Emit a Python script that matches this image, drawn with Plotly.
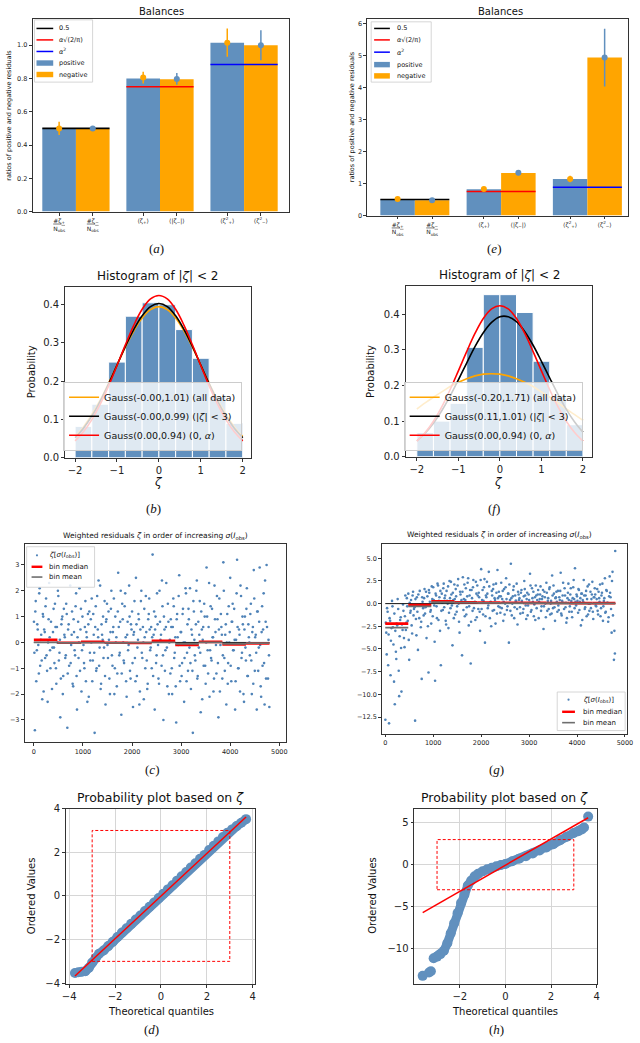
import plotly.graph_objects as go

W, H = 640, 1043
FONT = "DejaVu Sans"
SERIF = "Liberation Serif"
BLUE = "#6190BE"
ORANGE = "#FFA500"
DOT = "#4F83B8"

# ---------------- (a) / (e) balances ----------------
bal_labels = ["<u>#ζ<sub>+</sub></u><br>N<sub>obs</sub>", "<u>#ζ<sub>−</sub></u><br>N<sub>obs</sub>",
              "⟨ζ<sub>+</sub>⟩", "⟨|ζ<sub>−</sub>|⟩",
              "⟨ζ<sup>2</sup><sub>+</sub>⟩", "⟨ζ<sup>2</sup><sub>−</sub>⟩"]
bal_pos_x = [0, 2.5, 5]
bal_neg_x = [1, 3.5, 6]
ref_vals = [0.5, 0.75, 0.884]
ref_colors = ["black", "red", "blue"]

bal_a_pos = [0.50, 0.80, 1.015]
bal_a_neg = [0.50, 0.795, 1.00]
bal_a_pos_pt = [0.50, 0.805, 1.015]
bal_a_pos_err = [0.04, 0.035, 0.085]
bal_a_neg_pt = [0.50, 0.797, 1.00]
bal_a_neg_err = [0.008, 0.035, 0.09]

bal_e_pos = [0.50, 0.82, 1.14]
bal_e_neg = [0.48, 1.33, 4.93]
bal_e_pos_pt = [0.52, 0.83, 1.14]
bal_e_pos_err = [0.03, 0.03, 0.10]
bal_e_neg_pt = [0.48, 1.34, 4.93]
bal_e_neg_err = [0.02, 0.08, 0.90]

# ---------------- (b) / (f) histograms ----------------
hist_edges = [-2.0, -1.6, -1.2, -0.8, -0.4, 0.0, 0.4, 0.8, 1.2, 1.6, 2.0]
hist_b = [0.082, 0.14, 0.25, 0.37, 0.405, 0.40, 0.335, 0.26, 0.16, 0.09]
hist_f = [0.068, 0.10, 0.15, 0.307, 0.455, 0.455, 0.405, 0.268, 0.17, 0.09]
gauss_x = [-2.0, -1.8, -1.6, -1.4, -1.2, -1.0, -0.8, -0.6, -0.4, -0.2, 0.0,
           0.2, 0.4, 0.6, 0.8, 1.0, 1.2, 1.4, 1.6, 1.8, 2.0]
gauss_red = [0.0441, 0.0679, 0.0997, 0.140, 0.188, 0.241, 0.295, 0.346, 0.388, 0.415, 0.424,
             0.415, 0.388, 0.346, 0.295, 0.241, 0.188, 0.140, 0.0997, 0.0679, 0.0441]
gauss_b_black = [0.0524, 0.0772, 0.109, 0.148, 0.193, 0.242, 0.291, 0.335, 0.371, 0.395, 0.403,
                 0.395, 0.371, 0.335, 0.291, 0.242, 0.193, 0.148, 0.109, 0.0772, 0.0524]
gauss_b_orange = [0.0556, 0.0807, 0.113, 0.151, 0.195, 0.242, 0.289, 0.331, 0.365, 0.387, 0.395,
                  0.387, 0.365, 0.331, 0.289, 0.242, 0.195, 0.151, 0.113, 0.0807, 0.0556]
gauss_f_black = [0.0446, 0.0661, 0.0942, 0.129, 0.170, 0.216, 0.263, 0.309, 0.348, 0.377, 0.393,
                 0.393, 0.379, 0.351, 0.313, 0.268, 0.221, 0.175, 0.133, 0.0974, 0.0686]
gauss_f_orange = [0.134, 0.151, 0.167, 0.182, 0.197, 0.209, 0.219, 0.227, 0.232, 0.233, 0.232,
                  0.227, 0.219, 0.209, 0.197, 0.182, 0.167, 0.151, 0.134, 0.118, 0.102]
labels_b = ["Gauss(-0.00,1.01) (all data)", "Gauss(-0.00,0.99) (|<i>ζ</i>| < 3)", "Gauss(0.00,0.94) (0, <i>α</i>)"]
labels_f = ["Gauss(-0.20,1.71) (all data)", "Gauss(0.11,1.01) (|<i>ζ</i>| < 3)", "Gauss(0.00,0.94) (0, <i>α</i>)"]

# ---------------- (c) / (g) weighted residuals ----------------
obs_index = [
    2, 21, 38, 61, 79, 102, 118, 141, 160, 183, 199, 222, 238, 259, 281, 300, 322, 338, 361, 379,
    402, 419, 441, 458, 481, 499, 522, 538, 561, 580, 599, 622, 640, 659, 682, 698, 719, 741, 760, 778,
    801, 819, 840, 861, 879, 902, 918, 941, 959, 981, 1000, 1022, 1039, 1061, 1078, 1101, 1119, 1142, 1160, 1179,
    1201, 1220, 1238, 1261, 1279, 1302, 1318, 1340, 1361, 1379, 1402, 1419, 1441, 1460, 1478, 1500, 1521, 1539, 1561, 1579,
    1602, 1619, 1640, 1659, 1681, 1700, 1718, 1741, 1759, 1782, 1800, 1821, 1838, 1861, 1879, 1901, 1920, 1941, 1959, 1978,
    2001, 2020, 2041, 2059, 2080, 2099, 2121, 2139, 2160, 2181, 2199, 2222, 2240, 2258, 2281, 2300, 2319, 2341, 2359, 2380,
    2401, 2419, 2440, 2462, 2479, 2500, 2521, 2538, 2560, 2579, 2602, 2620, 2639, 2661, 2680, 2698, 2720, 2741, 2759, 2781,
    2800, 2818, 2841, 2859, 2882, 2900, 2919, 2940, 2961, 2979, 3001, 3020, 3038, 3061, 3080, 3099, 3121, 3140, 3158, 3181,
    3200, 3222, 3239, 3260, 3279, 3301, 3320, 3338, 3361, 3380, 3399, 3422, 3440, 3459, 3481, 3500, 3518, 3541, 3560, 3579,
    3601, 3620, 3641, 3659, 3680, 3700, 3719, 3741, 3760, 3778, 3801, 3820, 3839, 3860, 3881, 3899, 3921, 3940, 3958, 3981,
    4000, 4022, 4040, 4059, 4081, 4100, 4119, 4140, 4161, 4179, 4200, 4221, 4240, 4258, 4281, 4300, 4320, 4339, 4361, 4380,
    4400, 4421, 4440, 4462, 4480, 4501, 4520, 4541, 4560, 4582, 4600, 4621, 4640, 4659, 4681, 4700, 4722, 4741, 4770, 4797,
]
obs_index_b = [
    11, 30, 49, 70, 90, 110, 129, 150, 171, 190, 210, 230, 249, 270, 290, 311, 330, 349, 370, 390,
    410, 430, 450, 470, 490, 510, 530, 550, 570, 590, 611, 630, 650, 670, 690, 709, 730, 750, 770, 790,
    810, 830, 850, 870, 890, 910, 930, 950, 970, 990, 1011, 1030, 1050, 1070, 1090, 1110, 1130, 1150, 1170, 1190,
    1210, 1230, 1250, 1270, 1290, 1310, 1330, 1350, 1370, 1390, 1410, 1430, 1450, 1470, 1490, 1510, 1530, 1550, 1570, 1590,
    1610, 1630, 1650, 1670, 1690, 1710, 1730, 1750, 1770, 1790, 1810, 1830, 1850, 1870, 1890, 1910, 1930, 1950, 1970, 1990,
    2010, 2030, 2050, 2070, 2090, 2110, 2130, 2150, 2170, 2190, 2210, 2230, 2250, 2270, 2290, 2310, 2330, 2350, 2370, 2390,
    2410, 2430, 2450, 2470, 2490, 2510, 2530, 2550, 2570, 2590, 2610, 2630, 2650, 2670, 2690, 2710, 2730, 2750, 2770, 2790,
    2810, 2830, 2850, 2870, 2890, 2910, 2930, 2950, 2970, 2990, 3010, 3030, 3050, 3070, 3090, 3110, 3130, 3150, 3170, 3190,
    3210, 3230, 3250, 3270, 3290, 3310, 3330, 3350, 3370, 3390, 3410, 3430, 3450, 3470, 3490, 3510, 3530, 3550, 3570, 3590,
    3610, 3630, 3650, 3670, 3690, 3710, 3730, 3750, 3770, 3790, 3810, 3830, 3850, 3870, 3890, 3910, 3930, 3950, 3970, 3990,
    4010, 4030, 4050, 4070, 4090, 4110, 4130, 4150, 4170, 4190, 4210, 4230, 4250, 4270, 4290, 4310, 4330, 4350, 4370, 4390,
    4410, 4430, 4450, 4470, 4490, 4510, 4530, 4550, 4570, 4590, 4610, 4630, 4650, 4670, 4690, 4710, 4730, 4750, 4780, 4790,
]
zeta_c = [
    0.8, -3.4, 1.6, -0.3, 0.5, -1.2, 2.1, 0.1, -0.7, 1.1, -1.9, 0.4, 1.4, -0.5, -2.3, 0.9, 0.2, -1.0, 2.6, -0.2,
    1.3, -0.8, 0.6, -1.6, 0.0, 1.8, -0.4, -2.9, 0.7, 1.0, -1.3, 0.3, -0.6, 1.5, -3.3, 0.5, -0.9, 2.2, -0.1, 1.2,
    -1.7, 0.4, -0.5, 1.9, -2.6, 0.8, 0.0, -1.1, 1.3, -0.3, 2.9, -0.8, 0.6, -1.5, 0.2, 1.1, -2.1, -0.4, 0.9, 1.7,
    -0.7, 0.3, -3.5, 1.4, -1.0, 0.5, 2.4, -0.2, -1.8, 0.7, 0.1, -0.6, 1.6, -2.4, 0.9, -0.1, 1.2, -1.4, 0.4, 2.0,
    -0.9, 0.6, -2.0, 1.0, 0.2, -1.2, 2.7, -0.5, 0.8, -2.8, 1.5, 0.0, -0.8, 1.9, -1.5, 0.3, -0.3, 2.2, -1.1, 0.7,
    1.2, -2.5, 0.4, -0.6, 2.5, -1.3, 0.1, 0.9, -1.9, 1.6, -0.4, 0.6, -2.2, 0.2, 1.8, -0.7, -1.6, 1.1, 0.5, -0.2,
    -1.0, 3.4, 0.3, -2.6, 1.0, -0.5, 0.7, -1.4, 2.0, 0.1, -0.9, 1.4, -3.0, 0.5, -0.3, 2.3, -1.7, 0.8, 0.0, -1.2,
    0.6, -2.0, 1.7, -0.6, 0.2, -3.1, 1.1, -0.1, 2.6, -1.5, 0.4, -0.8, 1.3, -2.3, 0.0, 1.9, -0.4, -1.1, 0.9, 2.1,
    -1.8, 0.3, -3.5, 1.2, -0.5, 0.7, 2.4, -1.3, -0.2, 1.6, -2.7, 0.5, 0.1, -0.9, 1.0, -1.6, 2.9, -0.3, 0.6, -2.1,
    1.4, -0.7, 0.2, -1.9, 2.2, 0.4, -1.2, 0.9, -2.9, 1.7, -0.1, 0.6, -1.4, 3.1, -0.6, 0.3, -2.4, 1.1, -0.8, 0.0,
    2.5, -1.5, 0.8, -0.3, 1.3, -2.6, 0.1, 3.2, -1.0, 0.5, -1.9, 1.8, -0.4, 0.7, -2.3, 1.0, -0.7, 2.1, -1.3, 0.2,
    -0.5, 1.5, -2.0, 0.6, 2.8, -1.1, 0.3, -2.6, 1.2, -0.2, 2.9, -1.7, 0.4, -0.9, 1.9, -2.4, 0.8, 3.0, -1.4, -2.5,
]
zeta_c_b = [
    -0.4, 1.2, -1.5, 0.7, -0.1, 1.9, -0.9, 0.3, -2.2, 1.0, 0.5, -0.6, 1.7, -1.1, 0.0, 2.3, -0.3, 0.8, -1.8, 0.4,
    -0.2, 1.5, -1.0, 0.6, 2.0, -0.7, 0.1, -1.4, 0.9, -2.0, 1.3, 0.2, -0.5, 1.1, -1.2, 0.7, 2.5, -0.8, 0.3, -1.6,
    0.9, -0.3, 1.4, -1.3, 0.2, -0.6, 2.1, 0.5, -1.9, 1.0, -0.1, -1.0, 1.6, 0.4, -2.3, 0.7, 1.2, -0.7, 0.0, -1.5,
    1.1, -0.4, 0.6, -1.1, 1.8, 0.2, -0.9, 2.2, -1.6, 0.3, 1.0, -0.2, -1.3, 0.8, 1.5, -0.6, 0.1, -2.0, 1.3, -0.5,
    0.4, 1.7, -1.0, 0.0, -1.7, 1.2, 0.6, -0.4, 2.0, -1.2, 0.9, -0.7, 1.4, 0.2, -2.1, 0.8, -0.1, 1.0, -1.4, 0.5,
    -0.8, 0.3, 1.6, -1.5, 0.7, -0.2, 1.1, -2.4, 0.5, 2.0, -0.6, 0.0, 1.3, -1.0, 0.4, -1.8, 0.9, 1.7, -0.3, 0.6,
    0.2, -1.3, 1.2, 0.5, -0.8, 1.9, -0.1, -1.6, 0.8, 0.3, 2.4, -0.5, 1.0, -1.1, 0.6, -0.2, 1.5, -2.0, 0.1, 0.9,
    -1.0, 0.6, 1.4, -0.4, -1.7, 0.9, 0.2, 1.8, -0.9, 0.4, -1.3, 1.1, 0.0, -0.6, 2.1, -1.5, 0.7, 1.3, -0.2, -0.8,
    0.5, -1.1, 1.6, 0.1, -0.7, 2.0, -1.4, 0.8, 0.3, -0.4, 1.2, -2.2, 0.6, 1.5, -0.9, 0.0, 1.0, -1.2, 2.3, -0.3,
    -0.6, 1.3, 0.2, -1.4, 0.9, -0.1, 1.8, -0.8, 0.5, -1.9, 1.1, 0.3, -0.5, 2.0, -1.1, 0.7, 0.0, -1.6, 1.4, 0.4,
    -0.9, 0.8, 1.5, -0.3, 0.1, -1.5, 1.9, 0.6, -1.0, 0.3, 2.2, -0.6, 1.0, -2.0, 0.5, -0.2, 1.3, -1.3, 0.7, 0.0,
    1.1, -0.7, 0.4, -1.6, 1.7, 0.2, -0.4, 1.2, -1.1, 0.8, -0.1, -2.1, 1.4, 0.5, -0.8, 2.4, -1.4, 0.6, 0.1, -0.5,
]
zeta_g = [
    -12.8, -3.2, -0.5, -6.8, -13.2, -1.9, -4.1, 0.3, -2.6, -8.6, -11.1, -5.3, -2.2, 0.5, -7.4, -3.6, -1.5, -9.7, -2.9, -0.8,
    -4.8, 0.9, -2.1, -0.3, 1.1, -6.2, -1.0, 0.4, -3.3, 1.3, -0.6, -12.9, -1.7, 0.7, -5.1, -0.2, 1.4, -2.6, -8.3, 0.2,
    -1.3, 1.6, -0.4, -3.8, 0.8, -7.6, 1.2, -0.9, -2.2, 0.5, 1.8, -0.2, -8.5, 0.9, -1.6, 2.0, 0.3, -3.0, -6.8, 1.1,
    -0.7, 2.2, 0.6, -1.9, 1.4, 0.0, -2.7, 2.5, -0.5, 1.0, -4.6, 0.4, 2.1, -1.2, 0.8, -0.3, 2.7, -2.0, 1.3, 0.2,
    -5.7, 2.9, 0.5, -1.4, 1.7, -0.4, 2.3, -2.4, 0.9, -6.6, 1.5, -0.8, 2.6, 0.1, -1.8, 1.1, 2.0, -0.6, 0.7, -3.0,
    3.8, 0.4, -1.2, 1.8, -4.3, 0.9, 2.4, -0.5, 3.5, -1.6, 0.2, 1.4, -0.8, 2.1, 0.6, -2.2, 1.2, 3.7, -0.3, 0.8,
    -1.0, 2.3, 0.5, -1.9, 1.6, 0.0, 2.8, -0.7, 1.1, -4.3, 0.4, 4.4, -1.3, 0.8, 1.9, -0.4, 0.3, 2.2, -2.3, 1.0,
    0.6, -1.1, 1.5, 0.1, -0.6, 2.5, 0.9, -1.7, 1.2, -0.2, 0.4, 3.3, -0.9, 1.7, 0.2, -1.4, 0.7, 2.0, -0.5, 1.0,
    -1.6, 0.5, 1.9, -0.3, 0.8, -2.8, 1.3, 0.0, 2.3, -0.8, 0.6, 1.6, -1.2, 0.3, 3.1, -0.5, 1.1, -1.9, 0.7, 0.2,
    1.4, -0.7, 0.4, 3.4, -1.3, 0.9, 0.1, 1.7, -0.4, -2.1, 0.6, 2.2, -0.9, 1.0, 0.3, -1.5, 1.8, 0.5, 3.9, -0.2,
    0.8, -1.0, 1.5, 0.2, -2.4, 1.1, 0.4, 2.6, -0.6, 0.9, -1.4, 1.9, 0.0, -0.8, 1.3, 0.5, 2.4, -1.7, 0.7, 1.0,
    -0.3, 1.6, -1.2, 0.6, 2.1, -0.5, 1.2, -1.9, 0.3, 2.8, -0.9, 1.4, 0.1, -1.5, 3.0, 0.7, -3.2, 3.5, -6.2, 5.8,
]
zeta_g_b = [
    -2.1, -5.6, -0.9, -3.4, -1.6, -7.9, -2.7, -0.3, -4.5, -1.1, -3.0, -6.1, -2.4, -0.6, -10.2, -1.8, -4.9, -2.3, -0.1, -3.8,
    -1.4, -2.9, 0.6, -1.9, -4.0, 0.1, -0.8, -2.4, 0.9, -1.3, -0.4, 0.5, -3.5, -0.9, 1.0, -1.6, -0.1, -2.0, 0.7, -0.5,
    0.6, -1.1, 1.3, -0.2, -2.5, 1.5, 0.2, -0.7, 1.9, -1.4, 0.4, -4.2, 1.1, -0.3, 2.2, -1.8, 0.7, 1.4, -0.8, 0.1,
    1.7, -0.4, 0.9, -2.3, 0.3, 1.9, -1.0, 0.6, 2.4, -0.2, 1.2, -1.6, 0.5, 1.6, -0.9, 2.0, 0.0, -3.2, 1.0, 0.4,
    1.3, -0.7, 2.1, 0.4, -1.2, 0.8, 2.8, -0.3, 1.5, -2.0, 0.6, 1.8, -0.5, 0.2, 2.4, -1.5, 0.9, 1.2, -0.9, 2.6,
    -0.6, 1.5, 0.3, 2.7, -1.4, 0.7, 1.1, -0.2, 1.9, 0.1, -2.5, 0.9, 1.6, -0.7, 0.4, 2.2, -1.1, 0.6, 1.3, -0.4,
    0.8, -0.5, 1.4, 0.2, -1.2, 1.8, 0.5, -0.3, 1.1, 2.1, -0.8, 0.6, 0.0, 1.5, -1.6, 0.9, 0.3, -0.6, 1.3, 0.4,
    -0.4, 1.2, 0.3, -1.0, 0.8, 1.6, -0.2, 0.5, -1.3, 1.0, 0.1, 2.0, -0.7, 0.6, 1.3, -0.1, -1.8, 0.9, 0.4, 1.5,
    0.2, 1.0, -0.8, 0.5, 1.5, -0.3, 0.7, -1.5, 1.2, 0.3, -0.6, 1.8, 0.0, -1.1, 0.9, 2.0, -0.4, 0.6, 1.3, -0.9,
    -0.2, 0.7, 1.4, -1.1, 0.3, 2.3, -0.6, 0.9, 0.1, -1.6, 1.2, 0.4, -0.3, 1.7, -0.9, 0.6, 2.6, -0.5, 0.2, 1.0,
    0.3, 1.6, -0.7, 0.6, 1.1, -1.8, 0.2, 0.9, -0.4, 1.4, 0.5, -1.2, 2.1, 0.0, -0.5, 1.0, -0.9, 0.7, 1.7, -0.2,
    0.5, -0.8, 1.3, 0.2, -1.4, 0.9, 2.2, -0.3, 0.6, -1.0, 1.5, 0.1, -2.0, 0.8, 1.2, -0.6, 2.5, -1.3, -3.0, -5.5,
]
bin_edges = [0, 480, 960, 1440, 1920, 2400, 2880, 3360, 3840, 4320, 4800]
median_c = [0.10, -0.01, 0.02, -0.01, -0.02, 0.06, -0.10, 0.02, -0.08, -0.04]
mean_c = [0.00, -0.02, -0.01, -0.02, -0.01, 0.00, -0.05, 0.00, -0.05, -0.03]
median_g = [-2.2, -0.15, 0.25, 0.15, 0.12, 0.1, 0.08, 0.06, 0.05, 0.05]
mean_g = [-2.65, -0.3, 0.15, 0.1, 0.08, 0.06, 0.05, 0.04, 0.03, 0.03]

# ---------------- (d) / (h) probability plots ----------------
qq_d_theo = [-3.75, -3.6, -3.45, -3.3, -3.15, -3.0, -2.85, -2.7, -2.5, -2.3, -2.1, -1.9, -1.7, -1.5,
             -1.3, -1.1, -0.9, -0.7, -0.5, -0.3, -0.1, 0.1, 0.3, 0.5, 0.7, 0.9, 1.1, 1.3, 1.5, 1.7,
             1.9, 2.1, 2.3, 2.5, 2.7, 2.9, 3.1, 3.3, 3.5, 3.71]
qq_d_ord = [-3.53, -3.5, -3.48, -3.45, -3.3, -3.05, -2.85, -2.65, -2.5, -2.3, -2.1, -1.88, -1.68, -1.48,
            -1.28, -1.08, -0.9, -0.69, -0.5, -0.3, -0.1, 0.1, 0.3, 0.49, 0.7, 0.9, 1.1, 1.3, 1.5, 1.7,
            1.88, 2.1, 2.3, 2.5, 2.7, 2.9, 3.05, 3.2, 3.35, 3.52]
qq_d_fit = (0.977, -0.006)
qq_h_theo = [-3.15, -3.0, -2.85, -2.7, -2.55, -2.4, -2.25, -2.1, -1.95, -1.8, -1.65, -1.5, -1.35, -1.2,
             -1.0, -0.8, -0.6, -0.4, -0.2, 0.0, 0.3, 0.6, 0.9, 1.2, 1.5, 1.8, 2.1, 2.4, 2.7, 3.0,
             3.2, 3.35, 3.45]
qq_h_ord = [-11.2, -11.0, -10.7, -10.3, -9.4, -8.2, -7.0, -5.8, -4.6, -3.6, -2.5, -1.9, -1.4, -1.1,
            -0.8, -0.55, -0.38, -0.2, -0.05, 0.08, 0.4, 0.7, 1.0, 1.35, 1.7, 2.05, 2.45, 2.92, 3.35, 3.78,
            4.0, 4.2, 4.45]
qq_h_tail_theo = [-3.63, -3.35, -3.27, 3.63]
qq_h_tail_ord = [-13.3, -12.9, -12.75, 5.75]
qq_h_fit = (1.562, -0.06)
box_limit = 3

# ======================================================================
fig = go.Figure()


def add(tr, k):
    s = "" if k == 1 else str(k)
    tr.update(xaxis="x" + s, yaxis="y" + s)
    fig.add_trace(tr)


def balances(k, pos, neg, ppt, perr, npt, nerr):
    add(go.Bar(x=bal_pos_x, y=pos, width=1, marker=dict(color=BLUE, line_width=0), showlegend=False), k)
    add(go.Bar(x=bal_neg_x, y=neg, width=1, marker=dict(color=ORANGE, line_width=0), showlegend=False), k)
    for i, (v, c) in enumerate(zip(ref_vals, ref_colors)):
        add(go.Scatter(x=[bal_pos_x[i] - 0.5, bal_neg_x[i] + 0.5], y=[v, v], mode="lines",
                       line=dict(color=c, width=1.6), showlegend=False), k)
    add(go.Scatter(x=bal_pos_x, y=ppt, mode="markers", marker=dict(color=ORANGE, size=6),
                   error_y=dict(type="data", array=perr, color=ORANGE, thickness=1.5, width=0),
                   showlegend=False), k)
    add(go.Scatter(x=bal_neg_x, y=npt, mode="markers", marker=dict(color=BLUE, size=6),
                   error_y=dict(type="data", array=nerr, color=BLUE, thickness=1.5, width=0),
                   showlegend=False), k)


balances(1, bal_a_pos, bal_a_neg, bal_a_pos_pt, bal_a_pos_err, bal_a_neg_pt, bal_a_neg_err)
balances(2, bal_e_pos, bal_e_neg, bal_e_pos_pt, bal_e_pos_err, bal_e_neg_pt, bal_e_neg_err)


def histogram(k, heights, curves, legname):
    centers = [(a + b) / 2 for a, b in zip(hist_edges[:-1], hist_edges[1:])]
    widths = [b - a for a, b in zip(hist_edges[:-1], hist_edges[1:])]
    add(go.Bar(x=centers, y=heights, width=widths, marker=dict(color=BLUE, line=dict(color="white", width=1)),
               showlegend=False), k)
    for yv, col, lab in curves:
        add(go.Scatter(x=gauss_x, y=yv, mode="lines", line=dict(color=col, width=1.6, shape="spline"),
                       name=lab, legend=legname), k)


histogram(3, hist_b, [(gauss_b_orange, ORANGE, labels_b[0]), (gauss_b_black, "black", labels_b[1]),
                      (gauss_red, "red", labels_b[2])], "legend")
histogram(4, hist_f, [(gauss_f_orange, ORANGE, labels_f[0]), (gauss_f_black, "black", labels_f[1]),
                      (gauss_red, "red", labels_f[2])], "legend2")


def segs(vals):
    xs, ys = [], []
    for i, v in enumerate(vals):
        xs += [bin_edges[i], bin_edges[i + 1], None]
        ys += [v, v, None]
    return xs, ys


def residuals(k, zeta, zeta_b, med, mean):
    add(go.Scatter(x=obs_index + obs_index_b, y=zeta + zeta_b, mode="markers",
                   marker=dict(size=2.6, color=DOT, line_width=0), showlegend=False), k)
    add(go.Scatter(x=[bin_edges[0], bin_edges[-1]], y=[0, 0], mode="lines", line=dict(color="#111", width=1),
                   showlegend=False), k)
    xs, ys = segs(med)
    add(go.Scatter(x=xs, y=ys, mode="lines", line=dict(color="red", width=2.6), showlegend=False), k)
    xs, ys = segs(mean)
    add(go.Scatter(x=xs, y=ys, mode="lines", line=dict(color="#6e6e6e", width=1.8), showlegend=False), k)


residuals(5, zeta_c, zeta_c_b, median_c, mean_c)
residuals(6, zeta_g, zeta_g_b, median_g, mean_g)


def qqplot(k, tx, oy, fit, ttx=None, toy=None):
    add(go.Scatter(x=tx, y=oy, mode="lines+markers", line=dict(color=BLUE, width=9),
                   marker=dict(color=BLUE, size=10), showlegend=False), k)
    allx = list(tx)
    if ttx:
        add(go.Scatter(x=ttx, y=toy, mode="markers", marker=dict(color=BLUE, size=10), showlegend=False), k)
        allx += list(ttx)
    x0, x1 = min(allx), max(allx)
    add(go.Scatter(x=[x0, x1], y=[fit[0] * x0 + fit[1], fit[0] * x1 + fit[1]], mode="lines",
                   line=dict(color="red", width=1.5), showlegend=False), k)


qqplot(7, qq_d_theo, qq_d_ord, qq_d_fit)
qqplot(8, qq_h_theo, qq_h_ord, qq_h_fit, qq_h_tail_theo, qq_h_tail_ord)

# ---------------- axes ----------------
def dx(l, r):
    return [l / W, r / W]


def dy(t, b):
    return [1 - b / H, 1 - t / H]


def axis(domain, rng, anchor, size, **kw):
    d = dict(domain=domain, range=rng, anchor=anchor, showline=True, mirror=True, linecolor="#333",
             linewidth=0.8, ticks="outside", ticklen=3, tickwidth=0.8, tickcolor="#333",
             tickfont=dict(size=size, color="#222", family=FONT), showgrid=False, zeroline=False,
             fixedrange=True)
    d.update(kw)
    return d


bal_tickvals = [bal_pos_x[0], bal_neg_x[0], bal_pos_x[1], bal_neg_x[1], bal_pos_x[2], bal_neg_x[2]]
grid = dict(showgrid=True, gridcolor="#d6d6d6", gridwidth=0.8)
layout_axes = {
    "xaxis": axis(dx(29, 290), [-0.79, 6.85], "y", 6, tickmode="array", tickvals=bal_tickvals, ticktext=bal_labels),
    "yaxis": axis(dy(13, 208), [0, 1.158], "x", 6.5, tickmode="linear", tick0=0, dtick=0.2, tickformat=".1f"),
    "xaxis2": axis(dx(369, 634), [-0.88, 6.68], "y2", 6, tickmode="array", tickvals=bal_tickvals, ticktext=bal_labels),
    "yaxis2": axis(dy(13, 212), [0, 6.14], "x2", 6.5, tickmode="linear", tick0=0, dtick=1),
    "xaxis3": axis(dx(62, 251), [-2.24, 2.2], "y3", 10, tickmode="linear", tick0=0, dtick=1),
    "yaxis3": axis(dy(284, 457), [0, 0.447], "x3", 10, tickmode="linear", tick0=0, dtick=0.1, tickformat=".1f"),
    "xaxis4": axis(dx(408, 597), [-2.27, 2.21], "y4", 10, tickmode="linear", tick0=0, dtick=1),
    "yaxis4": axis(dy(283, 456), [0, 0.48], "x4", 10, tickmode="linear", tick0=0, dtick=0.1, tickformat=".1f"),
    "xaxis5": axis(dx(21, 286), [-187, 5127], "y5", 6.5, tickmode="linear", tick0=0, dtick=1000),
    "yaxis5": axis(dy(544, 745), [-3.87, 3.82], "x5", 6.5, tickmode="linear", tick0=0, dtick=1),
    "xaxis6": axis(dx(384, 633), [-68, 5045], "y6", 6.5, tickmode="linear", tick0=0, dtick=1000),
    "yaxis6": axis(dy(544, 736), [-14.32, 6.6], "x6", 6.5, tickmode="linear", tick0=0, dtick=2.5, tickformat=".1f"),
    "xaxis7": axis(dx(63, 255), [-4.14, 4.1], "y7", 10, tickmode="linear", tick0=0, dtick=2, **grid),
    "yaxis7": axis(dy(812, 989), [-4.02, 4.0], "x7", 10, tickmode="linear", tick0=0, dtick=2, **grid),
    "xaxis8": axis(dx(417, 602), [-3.99, 4.0], "y8", 10, tickmode="linear", tick0=0, dtick=2, **grid),
    "yaxis8": axis(dy(812, 989), [-14.23, 6.7], "x8", 10, tickmode="linear", tick0=0, dtick=5, **grid),
}

# ---------------- shapes & annotations ----------------
shapes = []
annotations = []


def px(x):
    return x / W


def py(y):
    return 1 - y / H


def text(x, y, s, size, family=FONT, angle=0, anchor="center", color="#111"):
    annotations.append(dict(x=px(x), y=py(y), xref="paper", yref="paper", text=s, showarrow=False,
                            textangle=angle, xanchor=anchor, yanchor="middle",
                            font=dict(size=size, family=family, color=color)))


for k in (7, 8):
    shapes.append(dict(type="rect", xref="x%d" % k, yref="y%d" % k, x0=-box_limit, x1=box_limit,
                       y0=-box_limit, y1=box_limit, line=dict(color="red", width=1, dash="3px,2px"),
                       fillcolor="rgba(0,0,0,0)", layer="above"))


def leg_box(x0, y0, x1, y1):
    shapes.append(dict(type="rect", xref="paper", yref="paper", x0=px(x0), x1=px(x1), y0=py(y1), y1=py(y0),
                       line=dict(color="#cccccc", width=0.8), fillcolor="rgba(255,255,255,0.85)", layer="above"))


def leg_line(x0, x1, y, color, width):
    shapes.append(dict(type="line", xref="paper", yref="paper", x0=px(x0), x1=px(x1), y0=py(y), y1=py(y),
                       line=dict(color=color, width=width), layer="above"))


def leg_patch(x0, x1, y, color, h):
    shapes.append(dict(type="rect", xref="paper", yref="paper", x0=px(x0), x1=px(x1), y0=py(y + h / 2),
                       y1=py(y - h / 2), line=dict(width=0), fillcolor=color, layer="above"))


def leg_dot(x, y, color, r):
    shapes.append(dict(type="circle", xref="paper", yref="paper", x0=px(x - r), x1=px(x + r), y0=py(y + r),
                       y1=py(y - r), line=dict(width=0), fillcolor=color, layer="above"))


bal_leg_entries = [("line", "black", "0.5"), ("line", "red", "<i>α</i>√(2/π)"), ("line", "blue", "<i>α</i><sup>2</sup>"),
                   ("patch", BLUE, "positive"), ("patch", ORANGE, "negative")]
for (bx0, by0, bx1, by1, ys, sx0, sx1, tx) in [
        (31, 14, 90, 77, [22.7, 34.3, 46.0, 57.7, 69.3], 33, 50, 54),
        (373, 16, 434, 77, [22.7, 34.3, 46.7, 59.3, 70.7], 376, 392, 397)]:
    leg_box(bx0, by0, bx1, by1)
    for (kind, col, lab), yy in zip(bal_leg_entries, ys):
        if kind == "line":
            leg_line(sx0, sx1, yy, col, 1.5)
        else:
            leg_patch(sx0, sx1, yy, col, 5.5)
        text(tx, yy, lab, 6.5, anchor="left")

res_leg_entries = [("dot", DOT, "<i>ζ</i>[<i>σ</i>(<i>I</i><sub>obs</sub>)]"), ("line", "red", "bin median"),
                   ("line", "#6e6e6e", "bin mean")]
for (bx0, by0, bx1, by1, ys, sx0, sx1, tx) in [
        (23, 547, 92, 588, [555.7, 567.3, 577.7], 28, 39, 44),
        (562, 694, 631, 733, [701.7, 714.0, 725.0], 567, 580, 586)]:
    leg_box(bx0, by0, bx1, by1)
    for (kind, col, lab), yy in zip(res_leg_entries, ys):
        if kind == "dot":
            leg_dot((sx0 + sx1) / 2, yy, col, 1.1)
        elif col == "red":
            leg_line(sx0, sx1, yy, col, 2.4)
        else:
            leg_line(sx0, sx1, yy, col, 1.6)
        text(tx, yy, lab, 7, anchor="left")

# titles
text(160, 6, "Balances", 10)
text(504, 6, "Balances", 10)
text(156, 273, "Histogram of |<i>ζ</i>| < 2", 12)
text(503, 272, "Histogram of |<i>ζ</i>| < 2", 12)
res_title = "Weighted residuals <i>ζ</i> in order of increasing <i>σ</i>(<i>I</i><sub>obs</sub>)"
text(154, 536, res_title, 7.5)
text(503, 535, res_title, 7.5)
text(159, 801, "Probability plot based on <i>ζ</i>", 12.5)
text(508, 801, "Probability plot based on <i>ζ</i>", 12.5)

# axis labels
text(5, 110, "ratios of positive and negative residuals", 6.5, angle=-90)
text(353, 112, "ratios of positive and negative residuals", 6.5, angle=-90)
text(28, 370, "Probability", 10, angle=-90)
text(373, 370, "Probability", 10, angle=-90)
text(157, 482, "<i>ζ</i>", 12)
text(502, 482, "<i>ζ</i>", 12)
text(28, 900, "Ordered Values", 10, angle=-90)
text(375, 900, "Ordered Values", 10, angle=-90)
text(159, 1017, "Theoretical quantiles", 10)
text(509, 1017, "Theoretical quantiles", 10)

# captions
for (cx, cy, c) in [(155, 245, "a"), (498, 245, "e"), (152, 508, "b"), (498, 508, "f"),
                    (150, 772, "c"), (500, 772, "g"), (150, 1035, "d"), (500, 1035, "h")]:
    text(cx, cy, "(<i>%s</i>)" % c, 13, family=SERIF)

hist_legend = dict(xanchor="left", yanchor="bottom", bgcolor="rgba(255,255,255,0.8)", bordercolor="#cccccc",
                   borderwidth=1, font=dict(size=9.5, family=FONT, color="#111"), itemwidth=30,
                   tracegroupgap=0)

fig.update_layout(
    width=W, height=H, margin=dict(l=0, r=0, t=0, b=0), paper_bgcolor="white", plot_bgcolor="white",
    barmode="overlay", showlegend=True, font=dict(family=FONT),
    legend=dict(x=px(60), y=py(450), **hist_legend),
    legend2=dict(x=px(406), y=py(450), **hist_legend),
    shapes=shapes, annotations=annotations, **layout_axes,
)
fig.write_html("out.html", config={"displayModeBar": False},
               post_script="document.body.style.margin='0';document.body.style.overflow='hidden';")
